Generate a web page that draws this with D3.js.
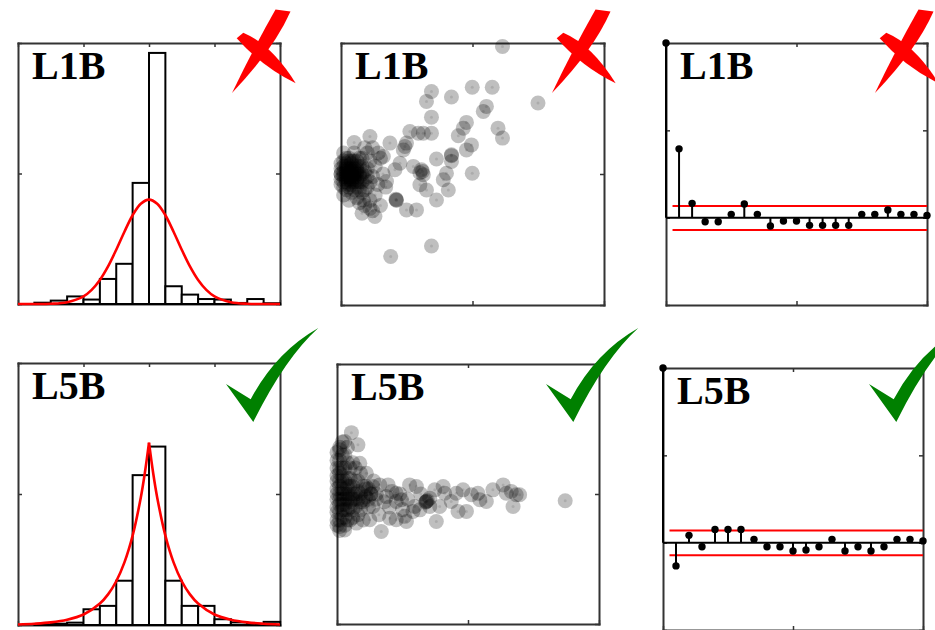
<!DOCTYPE html>
<html><head><meta charset="utf-8">
<script src="https://cdn.jsdelivr.net/npm/d3@7"></script>
<style>html,body{margin:0;padding:0;background:#fff;} svg{display:block;}</style>
</head><body>
<svg id="chart" width="935" height="630"></svg>
<script>
// ---------------- data ----------------
const panelLabels = ["L1B", "L5B"];
const verdicts = ["fail", "pass"];

const binCenters = [-7.5,-6.5,-5.5,-4.5,-3.5,-2.5,-1.5,-0.5,0.5,1.5,2.5,3.5,4.5,5.5,6.5,7.5];
const histL1B = [0.000,0.005,0.013,0.029,0.017,0.096,0.154,0.464,0.962,0.068,0.036,0.019,0.017,0.004,0.019,0.003];
const histL5B = [0.000,0.001,0.005,0.009,0.060,0.073,0.169,0.572,0.681,0.169,0.073,0.073,0.022,0.010,0.003,0.012];

const fitL1B = [[-8,0],[-7,0.0001],[-6,0.001],[-5,0.007],[-4,0.029],[-3.5,0.054],[-3,0.092],[-2.5,0.144],[-2,0.208],[-1.5,0.277],[-1,0.340],[-0.5,0.384],[0,0.400],
                [0.5,0.384],[1,0.340],[1.5,0.277],[2,0.208],[2.5,0.144],[3,0.092],[3.5,0.054],[4,0.029],[5,0.007],[6,0.001],[7,0.0001],[8,0]];
const fitL5B = [[-8,0.002],[-7,0.005],[-6,0.010],[-5,0.020],[-4,0.040],[-3,0.082],[-2.5,0.117],[-2,0.167],[-1.5,0.239],[-1,0.341],[-0.5,0.487],[-0.25,0.582],[0,0.696],
                [0.25,0.582],[0.5,0.487],[1,0.341],[1.5,0.239],[2,0.167],[2.5,0.117],[3,0.082],[4,0.040],[5,0.020],[6,0.010],[7,0.005],[8,0.002]];

const scatterL1B = [
 [0.614,0.987],[0.344,0.815],[0.325,0.777],[0.420,0.794],[0.499,0.831],[0.575,0.831],[0.749,0.771],[0.553,0.758],[0.541,0.739],[0.344,0.717],
 [0.477,0.697],[0.465,0.675],[0.597,0.675],[0.614,0.637],[0.446,0.646],[0.496,0.611],[0.477,0.592],[0.313,0.656],[0.344,0.656],[0.262,0.662],
 [0.294,0.656],[0.110,0.643],[0.186,0.618],[0.249,0.618],[0.237,0.592],[0.420,0.573],[0.363,0.557],[0.420,0.548],[0.499,0.503],[0.401,0.503],
 [0.389,0.478],[0.306,0.516],[0.313,0.497],[0.275,0.529],[0.224,0.541],[0.205,0.516],[0.173,0.471],[0.161,0.567],[0.142,0.580],[0.325,0.439],
 [0.363,0.401],[0.408,0.439],[0.287,0.363],[0.249,0.363],[0.211,0.401],[0.129,0.338],[0.110,0.369],[0.085,0.401],[0.344,0.225],[0.189,0.185],
 [0.300,0.459],[0.209,0.404],[0.310,0.510],[0.420,0.570],[0.243,0.605],[0.300,0.505],[0.210,0.400],
 [0.00,0.50],[0.01,0.47],[0.01,0.53],[0.02,0.50],[0.02,0.44],[0.02,0.56],[0.03,0.49],[0.03,0.52],[0.03,0.46],[0.04,0.50],
 [0.04,0.43],[0.04,0.55],[0.05,0.48],[0.05,0.52],[0.05,0.58],[0.06,0.45],[0.06,0.50],[0.06,0.41],[0.07,0.53],[0.07,0.47],
 [0.08,0.50],[0.08,0.56],[0.08,0.43],[0.09,0.48],[0.09,0.60],[0.10,0.52],[0.10,0.45],[0.11,0.55],[0.11,0.40],[0.12,0.49],
 [0.12,0.60],[0.13,0.53],[0.14,0.46],[0.15,0.56],[0.16,0.50],[0.00,0.46],[0.00,0.54],[0.01,0.42],[0.01,0.58],[0.02,0.48],
 [0.03,0.55],[0.04,0.47],[0.05,0.44],[0.06,0.55],[0.07,0.39],[0.03,0.40],[0.09,0.38],[0.13,0.42],[0.17,0.45],[0.15,0.38],
 [0.10,0.58],[0.05,0.62],[0.08,0.35],[0.12,0.36],[0.02,0.52],[0.04,0.52],[0.06,0.48],[0.03,0.50],[0.05,0.50],[0.07,0.50],
 [0.00,0.50],[0.01,0.49],[0.01,0.51],[0.02,0.47],[0.02,0.53],[0.03,0.50],[0.03,0.45],[0.03,0.56],[0.04,0.49],[0.04,0.46],
 [0.04,0.54],[0.05,0.51],[0.05,0.47],[0.05,0.55],[0.06,0.52],[0.06,0.47],[0.07,0.49],[0.07,0.44],[0.07,0.56],[0.08,0.47],
 [0.08,0.53],[0.09,0.51],[0.09,0.44],[0.10,0.49],[0.11,0.47],[0.00,0.48],[0.00,0.52],[0.01,0.45],[0.01,0.55],[0.02,0.51],
 [0.03,0.48],[0.04,0.51],[0.05,0.49],[0.06,0.51],[0.02,0.49],[0.03,0.53],[0.04,0.48],[0.06,0.53],[0.01,0.50],[0.02,0.54]
];

const scatterL5B = [
 [0.055,0.736],[0.080,0.689],[0.029,0.702],[0.010,0.670],[0.087,0.618],[0.112,0.580],[0.137,0.529],[0.163,0.535],[0.195,0.535],[0.226,0.503],
 [0.246,0.478],[0.277,0.535],[0.303,0.529],[0.341,0.471],[0.354,0.484],[0.373,0.516],[0.405,0.529],[0.411,0.503],[0.436,0.471],[0.455,0.503],
 [0.481,0.516],[0.494,0.433],[0.513,0.497],[0.538,0.503],[0.545,0.478],[0.570,0.471],[0.595,0.516],[0.634,0.535],[0.646,0.503],[0.665,0.510],
 [0.684,0.497],[0.697,0.497],[0.672,0.452],[0.462,0.433],[0.392,0.452],[0.354,0.452],[0.316,0.439],[0.290,0.433],[0.258,0.414],[0.226,0.401],
 [0.201,0.407],[0.379,0.394],[0.169,0.356],[0.265,0.394],[0.296,0.452],[0.137,0.452],[0.125,0.401],[0.099,0.478],[0.074,0.388],[0.029,0.362],
 [0.010,0.375],[0.871,0.474],[0.341,0.471],[0.345,0.475],[0.188,0.490],[0.226,0.471],[0.338,0.468],[0.150,0.500],[0.180,0.470],[0.210,0.510],
 [0.240,0.500],[0.270,0.480],[0.200,0.450],[0.250,0.440],[0.160,0.420],[0.320,0.500],[0.130,0.500],[0.110,0.530],
 [0.00,0.50],[0.00,0.45],[0.00,0.55],[0.00,0.60],[0.00,0.40],[0.01,0.48],[0.01,0.53],[0.01,0.58],[0.01,0.43],[0.01,0.63],
 [0.02,0.50],[0.02,0.46],[0.02,0.55],[0.02,0.41],[0.02,0.60],[0.03,0.48],[0.03,0.52],[0.03,0.65],[0.03,0.44],[0.04,0.50],
 [0.04,0.56],[0.04,0.40],[0.05,0.47],[0.05,0.53],[0.05,0.60],[0.06,0.50],[0.06,0.44],[0.07,0.55],[0.07,0.48],[0.08,0.51],
 [0.08,0.42],[0.09,0.47],[0.10,0.53],[0.11,0.49],[0.12,0.45],[0.13,0.50],[0.14,0.55],[0.06,0.62],[0.04,0.68],[0.09,0.58],
 [0.10,0.40],[0.12,0.52],[0.15,0.48],[0.02,0.70],[0.01,0.36],
 [0.00,0.48],[0.00,0.52],[0.00,0.57],[0.00,0.43],[0.00,0.63],[0.01,0.50],[0.01,0.46],[0.01,0.55],[0.01,0.40],[0.01,0.60],
 [0.02,0.48],[0.02,0.52],[0.02,0.57],[0.02,0.44],[0.02,0.65],[0.03,0.50],[0.03,0.46],[0.03,0.55],[0.03,0.41],[0.03,0.60],
 [0.04,0.48],[0.04,0.53],[0.04,0.44],[0.04,0.62],[0.05,0.50],[0.05,0.45],[0.05,0.56],[0.06,0.48],[0.06,0.53],[0.06,0.41],
 [0.07,0.50],[0.07,0.45],[0.08,0.48],[0.08,0.55],[0.09,0.50],[0.09,0.44],[0.10,0.47],[0.11,0.52],[0.12,0.48],[0.00,0.66],
 [0.01,0.68],[0.00,0.38],[0.03,0.38],[0.05,0.40],[0.07,0.60]
];

const lags = [0,1,2,3,4,5,6,7,8,9,10,11,12,13,14,15,16,17,18,19,20];
const acfL1B = [1,0.394,0.082,-0.023,-0.023,0.019,0.078,0.019,-0.048,-0.019,-0.019,-0.044,-0.044,-0.044,-0.044,0.019,0.019,0.044,0.019,0.019,0.013];
const acfL5B = [1,-0.133,0.042,-0.023,0.076,0.076,0.076,0.019,-0.023,-0.023,-0.048,-0.042,-0.023,0.019,-0.048,-0.023,-0.048,-0.023,0.019,0.019,0.010];
const confL1B = [0.067,-0.070];
const confL5B = [0.070,-0.072];
const confLagRange = [0.5, 20];

const histXTicks = [-8,-4,0,4,8], histYTicks = [0,0.5,1];
const scatterTicks = [0,0.5,1];
const acfXTicks = [0,10,20], acfYTicks = [-0.5,0,0.5,1];

// ---------------- layout ----------------
const boxes = [[18,43,280,304],[341,43,604,305],[666,43,927,305],
               [18,363,280,625],[337,364,599,624],[663,368,923,630]];
const markOffsets = [0, 320, 643];
const markAnchors = [[280,43],[280,363]];
const crossPaths = ["M-4.5,-33.5 L10.5,-31.5 Q-6,6 -48,50 Q-28,8 -4.5,-33.5 Z",
                    "M-36.7,-10.3 Q-8,2 15.7,40.3 Q-18,24 -43.3,-4.7 Z"];
const checkPath = "M-54,21 L-29.3,36.3 Q-4.5,-10.7 38.3,-35 Q5,-5 -26.7,59 Z";

const svg = d3.select("#chart");
const AX = "#333";

function frameT(g, x, y, w, h, xt, yt) {
  const style = a => {
    a.select(".domain").attr("stroke", AX).attr("stroke-width", 2).attr("stroke-linecap", "square");
    a.selectAll(".tick line").attr("stroke", AX).attr("stroke-width", 1.5);
  };
  g.append("g").attr("transform", `translate(0,${h})`).call(d3.axisBottom(x).tickValues(xt).tickSizeInner(-4).tickSizeOuter(0).tickFormat("")).call(style);
  g.append("g").call(d3.axisTop(x).tickValues(xt).tickSizeInner(-4).tickSizeOuter(0).tickFormat("")).call(style);
  g.append("g").call(d3.axisLeft(y).tickValues(yt).tickSizeInner(-4).tickSizeOuter(0).tickFormat("")).call(style);
  g.append("g").attr("transform", `translate(${w},0)`).call(d3.axisRight(y).tickValues(yt).tickSizeInner(-4).tickSizeOuter(0).tickFormat("")).call(style);
}

function title(g, text) {
  g.append("text").attr("x", 14).attr("y", 36).text(text)
    .attr("font-family", "'Liberation Serif', 'Times New Roman', serif")
    .attr("font-weight", "bold").attr("font-size", 40).attr("fill", "#000");
}

function panel(i) {
  const [x0, y0, x1, y1] = boxes[i];
  const g = svg.append("g").attr("transform", `translate(${x0},${y0})`);
  return {g, w: x1 - x0, h: y1 - y0};
}

// Histograms
[histL1B, histL5B].forEach((hist, r) => {
  const {g, w, h} = panel(r * 3);
  const x = d3.scaleLinear().domain([-8, 8]).range([0, w]);
  const y = d3.scaleLinear().domain([0, 1]).range([h, 0]);
  frameT(g, x, y, w, h, histXTicks, histYTicks);
  g.selectAll("rect.bar").data(binCenters).join("rect").attr("class", "bar")
    .attr("x", c => x(c - 0.5)).attr("width", c => x(c + 0.5) - x(c - 0.5))
    .attr("y", (c, k) => y(hist[k])).attr("height", (c, k) => y(0) - y(hist[k]))
    .attr("fill", "#fff").attr("stroke", "#000").attr("stroke-width", 2);
  const fit = r === 0 ? fitL1B : fitL5B;
  const line = d3.line().x(d => x(d[0])).y(d => y(d[1])).curve(d3.curveCatmullRom);
  const parts = r === 0 ? [fit] : [fit.filter(d => d[0] <= 0), fit.filter(d => d[0] >= 0)];
  parts.forEach(p => g.append("path").attr("d", line(p)).attr("fill", "none").attr("stroke", "#ff0000").attr("stroke-width", 2.6));
  title(g, panelLabels[r]);
});

// Scatters
[scatterL1B, scatterL5B].forEach((pts, r) => {
  const {g, w, h} = panel(r * 3 + 1);
  const x = d3.scaleLinear().domain([0, 1]).range([0, w]);
  const y = d3.scaleLinear().domain([0, 1]).range([h, 0]);
  frameT(g, x, y, w, h, scatterTicks, scatterTicks);
  g.selectAll("circle.pt").data(pts).join("circle").attr("class", "pt")
    .attr("cx", d => x(d[0])).attr("cy", d => y(d[1])).attr("r", 7.5)
    .attr("fill", "#000").attr("fill-opacity", 0.25);
  g.selectAll("circle.ctr").data(pts).join("circle").attr("class", "ctr")
    .attr("cx", d => x(d[0])).attr("cy", d => y(d[1])).attr("r", 1.5)
    .attr("fill", "#000").attr("fill-opacity", 0.1);
  title(g, panelLabels[r]);
});

// Autocorrelation stems
[[acfL1B, confL1B], [acfL5B, confL5B]].forEach(([acf, conf], r) => {
  const {g, w, h} = panel(r * 3 + 2);
  const x = d3.scaleLinear().domain([0, 20]).range([0, w]);
  const y = d3.scaleLinear().domain([-0.5, 1]).range([h, 0]);
  frameT(g, x, y, w, h, acfXTicks, acfYTicks);
  g.selectAll("line.conf").data(conf).join("line").attr("class", "conf")
    .attr("x1", x(confLagRange[0])).attr("x2", x(confLagRange[1]))
    .attr("y1", d => y(d)).attr("y2", d => y(d))
    .attr("stroke", "#ff0000").attr("stroke-width", 2);
  g.append("line").attr("x1", x(0)).attr("x2", x(20)).attr("y1", y(0)).attr("y2", y(0))
    .attr("stroke", "#000").attr("stroke-width", 2);
  g.selectAll("line.stem").data(lags).join("line").attr("class", "stem")
    .attr("x1", d => x(d)).attr("x2", d => x(d)).attr("y1", y(0)).attr("y2", (d, k) => y(acf[k]))
    .attr("stroke", "#000").attr("stroke-width", 2);
  g.selectAll("circle.dot").data(lags).join("circle").attr("class", "dot")
    .attr("cx", d => x(d)).attr("cy", (d, k) => y(acf[k])).attr("r", 3.7).attr("fill", "#000");
  title(g, panelLabels[r]);
});

// Verdict marks
verdicts.forEach((v, r) => {
  markOffsets.forEach(off => {
    const [ax, ay] = markAnchors[r];
    const mg = svg.append("g").attr("transform", `translate(${ax + off},${ay})`);
    if (v === "fail") {
      crossPaths.forEach(p => mg.append("path").attr("d", p).attr("fill", "#ff0000"));
    } else {
      mg.append("path").attr("d", checkPath).attr("fill", "#008000");
    }
  });
});
</script>
</body></html>
